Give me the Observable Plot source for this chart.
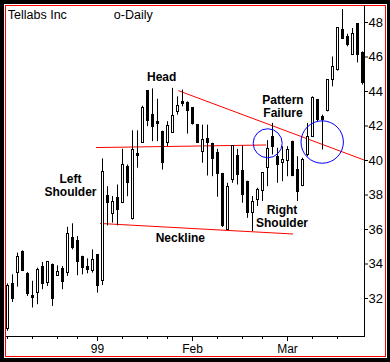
<!DOCTYPE html>
<html>
<head>
<meta charset="utf-8">
<script src="https://cdn.jsdelivr.net/npm/d3@7"></script>
<script src="https://cdn.jsdelivr.net/npm/@observablehq/plot@0.6"></script>
<style>
  html, body { margin: 0; padding: 0; background: #000; }
  #wrap { position: relative; width: 390px; height: 362px; background: #000; overflow: hidden; }
  #inner { position: absolute; left: 4px; top: 4px; width: 383px; height: 354px; background: #fff; }
  #redframe { position: absolute; left: 5px; top: 5px; width: 379px; height: 350px; border: 1px solid #f00; }
  #chart { position: absolute; left: 0; top: 0; }
</style>
</head>
<body>
<div id="wrap">
  <div id="inner"></div>
  <div id="redframe"></div>
  <div id="chart"></div>
</div>
<script>
// Daily OHLC, Tellabs Inc, trading days from early Dec 1998 to late Mar 1999 (index 0..71)
const opens  = [30.23,32.85,33.47,34.69,33.41,32.12,32.31,33.82,32.89,33.95,33.32,33.70,33.47,35.50,35.34,34.40,33.80,33.62,34.53,33.04,
                37.96,36.90,37.81,37.52,39.64,36.60,40.38,41.03,44.02,42.63,42.21,41.67,40.99,41.61,42.82,43.40,43.31,43.02,42.05,40.51,
                41.24,40.95,40.42,39.22,35.98,38.87,40.26,39.39,38.77,36.94,37.71,38.25,39.55,41.38,40.22,39.84,39.99,41.09,39.45,38.52,
                40.32,41.38,43.50,42.53,42.88,44.66,45.24,47.59,47.16,46.10,47.90,46.24];
const highs  = [32.85,33.37,34.63,34.76,33.50,33.00,33.76,34.09,34.14,34.00,33.89,33.85,36.13,36.33,35.59,34.45,34.30,34.82,34.55,40.09,
                38.48,37.91,38.58,40.65,39.74,41.72,41.72,43.15,44.05,44.15,43.55,41.70,42.25,44.18,43.69,44.08,43.40,43.05,42.08,42.05,
                42.05,41.00,40.65,39.25,38.68,40.86,40.65,40.84,38.80,37.91,38.39,39.29,41.15,42.15,40.71,40.80,40.80,41.12,40.22,40.13,
                42.15,43.69,43.54,42.63,44.66,46.00,47.71,48.75,47.32,47.65,47.92,46.30];
const lows   = [30.10,31.77,32.66,33.60,32.12,31.45,31.64,32.51,32.70,31.54,33.28,32.51,33.28,34.82,33.32,33.37,33.43,33.47,32.31,32.75,
                36.21,36.37,36.21,37.50,37.90,36.55,39.55,40.99,41.96,41.09,41.09,39.45,40.80,41.61,42.63,43.11,41.53,42.05,40.99,39.84,
                39.10,39.06,37.87,36.12,35.95,38.68,38.58,37.52,36.65,35.88,37.33,37.62,38.48,40.32,38.68,38.77,39.06,39.06,37.62,38.48,
                40.22,41.36,42.25,40.61,42.82,44.27,45.18,47.07,46.59,46.10,45.66,44.37];
const closes = [32.75,32.00,34.40,33.62,32.27,32.03,33.66,32.84,34.09,31.97,33.53,32.95,35.73,34.92,34.14,33.76,33.68,34.24,32.75,39.35,
                37.52,37.62,37.14,39.74,38.72,40.61,40.26,43.02,42.29,41.92,42.13,39.84,42.00,42.58,43.15,43.25,42.88,42.09,41.03,41.19,
                40.99,40.09,39.22,36.21,38.48,40.86,39.16,38.00,36.94,37.62,38.29,39.29,40.65,40.80,39.74,40.03,40.61,39.10,38.19,40.03,
                41.38,43.60,42.34,42.34,44.66,45.43,47.71,47.07,46.68,47.36,46.10,44.47];

// x-axis: weekly tick positions (trading-day index) and month labels
const weekTicks   = [0,5,10,14,18,23,28,32,37,42,47,51,56,61,66];
const monthTicks  = [18,37,56];
const monthLabels = ["99","Feb","Mar"];
// y-axis ticks (price)
const yTicks = [32,34,36,38,40,42,44,46,48];

// trend lines (red): start/end in (day index, price)
const lineX1 = [17.7, 18.5, 34.16];
const lineY1 = [40.75, 36.35, 44.05];
const lineX2 = [51.7, 57.1, 71.3];
const lineY2 = [40.90, 35.74, 40.03];

// highlight circles (blue): centres in (day index, price)
const circleX = [52.04, 62.94];
const circleY = [41.00, 41.07];

// single-line annotation labels (anchored at their middle)
const labelText = ["Head", "Neckline"];
const labelX    = [30.84, 34.56];
const labelY    = [44.86, 35.52];
// two-line annotation labels (anchored at their top)
const noteText = ["Left\nShoulder", "Pattern\nFailure", "Right\nShoulder"];
const noteX    = [12.6, 55.1, 54.9];
const noteY    = [39.20, 43.78, 37.40];

const titleText = "Tellabs Inc";
const periodText = "o-Daily";

const candles = d3.range(opens.length).map(i => ({i, o: opens[i], h: highs[i], l: lows[i], c: closes[i]}));
const lines = lineX1.map((_, k) => ({x1: lineX1[k], y1: lineY1[k], x2: lineX2[k], y2: lineY2[k]}));
const labels = labelText.map((t, k) => ({t, x: labelX[k], y: labelY[k]}));
const notes = noteText.map((t, k) => ({t, x: noteX[k], y: noteY[k]}));

const font = "'Liberation Sans', Arial, sans-serif";

const chart = Plot.plot({
  width: 390,
  height: 362,
  marginLeft: 6,
  marginRight: 26,
  marginTop: 5,
  marginBottom: 26,
  style: {background: "transparent", fontFamily: font, fontSize: "12px", color: "black"},
  x: {type: "linear", domain: [0, 71], range: [7, 362]},
  y: {type: "linear", domain: [32, 48], range: [298, 22]},
  marks: [
    Plot.frame({anchor: "bottom", stroke: "black"}),
    Plot.frame({anchor: "right", stroke: "black"}),
    Plot.axisX({ticks: weekTicks, tickSize: 3, tickFormat: () => "", label: null}),
    Plot.axisX({ticks: monthTicks, tickSize: 5, tickPadding: 3, fontSize: 12, label: null,
                tickFormat: d => monthLabels[monthTicks.indexOf(d)]}),
    Plot.axisY({anchor: "right", ticks: yTicks, tickSize: 3, tickPadding: 1, fontSize: 13, label: null,
                tickFormat: d => String(d)}),
    Plot.link(lines, {x1: "x1", y1: "y1", x2: "x2", y2: "y2", stroke: "#ff0000", strokeWidth: 1}),
    Plot.ruleX(candles, {x: "i", y1: "l", y2: "h", stroke: "black", strokeWidth: 1}),
    Plot.rect(candles, {x1: d => d.i - 0.2, x2: d => d.i + 0.2, y1: "o", y2: "c",
                        fill: d => d.c >= d.o ? "white" : "black", stroke: "black", strokeWidth: 1,
                        shapeRendering: "crispEdges"}),
    Plot.dot([0], {x: () => circleX[0], y: () => circleY[0], r: 14.5, stroke: "#0000ff", fill: "none", strokeWidth: 1}),
    Plot.dot([1], {x: () => circleX[1], y: () => circleY[1], r: 21.2, stroke: "#0000ff", fill: "none", strokeWidth: 1}),
    Plot.text(labels, {x: "x", y: "y", text: "t", fontWeight: "bold", fontSize: 12, fill: "black",
                       textAnchor: "middle", lineAnchor: "middle"}),
    Plot.text(notes, {x: "x", y: "y", text: "t", fontWeight: "bold", fontSize: 12, fill: "black",
                      textAnchor: "middle", lineAnchor: "top", lineHeight: 1.06}),
    Plot.text([titleText], {frameAnchor: "top-left", text: d => d, dx: 1.3, dy: 4.8, fontSize: 12.5,
                            fill: "black", textAnchor: "start", lineAnchor: "top"}),
    Plot.text([periodText], {frameAnchor: "top-left", text: d => d, dx: 107.3, dy: 4.8, fontSize: 12.5,
                             fill: "black", textAnchor: "start", lineAnchor: "top"})
  ]
});
document.getElementById("chart").appendChild(chart);
</script>
</body>
</html>
